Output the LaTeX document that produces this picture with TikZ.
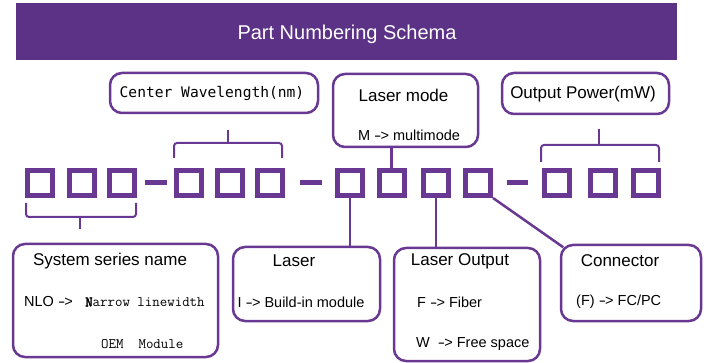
\documentclass[tikz,border=0pt]{standalone}
\usepackage{fontspec}
\setmainfont{Liberation Sans}
\newfontfamily\cwmono{DejaVu Sans Mono}
\newfontfamily\ttbold[FakeBold=3]{Latin Modern Mono}
\usetikzlibrary{calc}
\definecolor{hdr}{RGB}{92,50,134}
\definecolor{pur}{RGB}{104,56,146}
\newcommand{\myarr}{\scalebox{1.5}[1]{-}\kern-0.8pt>}
\tikzset{
  box/.style={draw=pur, line width=2.5pt, rounded corners=12pt, inner sep=0pt},
  sq/.style={draw=pur, line width=5pt, minimum size=25pt, inner sep=0pt},
  dashln/.style={draw=pur, line width=5pt},
  link/.style={draw=pur, line width=2.5pt},
  brace/.style={draw=pur, line width=2pt, rounded corners=3pt},
  ttl/.style={font=\fontsize{17}{20}\selectfont, inner sep=0pt},
  txt/.style={font=\fontsize{14.5}{17}\selectfont, inner sep=0pt},
  mono/.style={font=\ttfamily\fontsize{14.5}{17}\selectfont, inner sep=0pt, anchor=west},
}
\begin{document}
\begin{tikzpicture}[x=1pt,y=-1pt]
\useasboundingbox (0,0) rectangle (704,363);
% header
\node[fill=hdr, minimum width=661pt, minimum height=57pt, inner sep=0pt] (hdr) at (346.5,31.5) {};
\node[text=white, font=\fontsize{20}{24}\selectfont, inner sep=0pt] (title) at (347,34) {Part Numbering Schema};
% squares
\foreach \n/\x in {1/40,2/81.5,3/121.5,4/189,5/229.5,6/270,7/350,8/391.5,9/436,10/478,11/557,12/603,13/646}
  \node[sq] (sq\n) at (\x,183) {};
% dashes between groups
\draw[dashln, shorten <=8pt, shorten >=7pt] (sq3.east) -- (sq4.west);
\draw[dashln, shorten <=15pt, shorten >=13pt] (sq6.east) -- (sq7.west);
\draw[dashln, shorten <=14pt, shorten >=14pt] (sq10.east) -- (sq11.west);
% top boxes
\node[box, minimum width=208pt, minimum height=40pt] (cw) at (214,93) {};
\node[font=\cwmono\fontsize{14.6}{17}\selectfont, inner sep=0pt] at (212,93) {Center Wavelength(nm)};
\node[box, minimum width=145pt, minimum height=73pt] (mode) at (405.5,110.5) {};
\node[ttl] at (403.5,95) {Laser mode};
\node[txt] at (409,135) {M \myarr{} multimode};
\node[box, minimum width=167pt, minimum height=41pt] (pow) at (585.5,93.5) {};
\node[ttl] at (583,94) {Output Power(mW)};
% bottom boxes
\node[box, minimum width=205pt, minimum height=113pt] (sys) at (115.5,300.5) {};
\node[ttl] at (110,261) {System series name};
\node[txt, anchor=west] at (24,302) {NLO \myarr};
\node[mono] at (85,302) {{\ttbold N}arrow linewidth};
\node[mono] at (101,344) {OEM\ \ Module};
\node[box, minimum width=147pt, minimum height=74pt] (laser) at (306.5,284) {};
\node[ttl] at (294,261) {Laser};
\node[txt] at (301,302) {I \myarr{} Build-in module};
\node[box, minimum width=146pt, minimum height=113pt] (out) at (467,304.5) {};
\node[ttl] at (460,261) {Laser Output};
\node[txt, anchor=west] at (417,302) {F \myarr{} Fiber};
\node[txt, anchor=west] at (416,344) {W\ \ \myarr{} Free space};
\node[box, minimum width=140pt, minimum height=76pt] (conn) at (631,283) {};
\node[ttl] at (620,261) {Connector};
\node[txt, anchor=west] at (576,302) {(F) \myarr{} FC/PC};
% connectors
\draw[link] (sq8.north) -- (sq8.north |- mode.south);
\draw[link] (sq7.south) -- (sq7.south |- laser.north);
\draw[link] (sq9.south) -- (sq9.south |- out.north);
\coordinate (cc) at ($(conn.north west)+(3.5,3.5)$);
\draw[link] (sq10.south east) -- (cc);
% braces
\draw[brace] (26,203) -- (26,217) -- (136,217) -- (136,203);
\draw[brace] (80,217) -- (80,229);
\draw[brace] (174,158) -- (174,143) -- (282,143) -- (282,158);
\draw[brace] (228,143) -- (228,130);
\draw[brace] (541,162) -- (541,145) -- (659,145) -- (659,162);
\draw[brace] (599,145) -- (599,129);
\end{tikzpicture}
\end{document}
